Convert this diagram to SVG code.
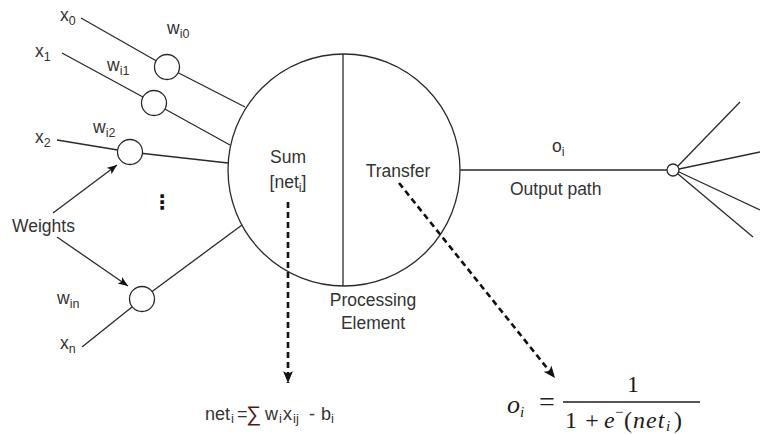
<svg xmlns="http://www.w3.org/2000/svg" width="760" height="434" viewBox="0 0 760 434">
<style>
text{font-family:"Liberation Sans",Arial,sans-serif;fill:#333;}
.lbl{font-size:17.5px;}
.sub{font-size:12.5px;}
.ln{stroke:#2a2a2a;stroke-width:1.3;fill:none;}
.node{stroke:#2a2a2a;stroke-width:1.3;fill:#fff;}
.dash{stroke:#111;stroke-width:2.6;stroke-dasharray:6 4;fill:none;}
.math{font-family:"Liberation Serif","Times New Roman",serif;fill:#231a1a;}
.mi{font-style:italic;}
</style>
<defs>
<marker id="ah" markerUnits="userSpaceOnUse" markerWidth="14" markerHeight="12" refX="12" refY="5" orient="auto">
<path d="M0,0 L12,5 L0,10 L3,5 Z" fill="#111"/>
</marker>
<marker id="ahs" markerUnits="userSpaceOnUse" markerWidth="12" markerHeight="10" refX="10" refY="4" orient="auto">
<path d="M0,0 L10,4 L0,8 L2.5,4 Z" fill="#111"/>
</marker>
</defs>

<g id="connectors">
<polyline class="ln" points="81,18 167,67 245,107"/>
<polyline class="ln" points="62,53 154,103 230,145"/>
<polyline class="ln" points="57,140 130,152 228,163"/>
<polyline class="ln" points="82,347 142,299 242,225"/>
<line class="ln" x1="460" y1="170" x2="667" y2="170"/>
<line class="ln" x1="678" y1="166" x2="740" y2="102"/>
<line class="ln" x1="679" y1="169" x2="760" y2="152"/>
<line class="ln" x1="679" y1="172" x2="760" y2="210"/>
<line class="ln" x1="678" y1="174" x2="753" y2="237"/>
<line class="ln" x1="53" y1="213" x2="117" y2="165" marker-end="url(#ahs)"/>
<line class="ln" x1="57" y1="237" x2="128" y2="286" marker-end="url(#ahs)"/>
<line class="dash" x1="288" y1="202" x2="288" y2="383" marker-end="url(#ah)"/>
<line class="dash" x1="399" y1="183" x2="555" y2="378" marker-end="url(#ah)"/>
</g>

<g id="processing-element">
<circle cx="344" cy="170" r="116" class="ln"/>
<line class="ln" x1="343" y1="54" x2="343" y2="286"/>
<text class="lbl" x="288" y="163" text-anchor="middle">Sum</text>
<text class="lbl" x="288" y="188" text-anchor="middle">[net<tspan class="sub" dy="4">i</tspan><tspan dy="-4">]</tspan></text>
<text class="lbl" x="398" y="177" text-anchor="middle">Transfer</text>
<text class="lbl" x="373" y="306" text-anchor="middle">Processing</text>
<text class="lbl" x="373" y="329" text-anchor="middle">Element</text>
</g>

<g id="weight-0">
<circle class="node" cx="167" cy="67" r="12.5"/>
<text class="lbl" x="167" y="34">w<tspan class="sub" dy="4">i0</tspan></text>
</g>
<g id="weight-1">
<circle class="node" cx="154" cy="103" r="12.5"/>
<text class="lbl" x="107" y="71">w<tspan class="sub" dy="4">i1</tspan></text>
</g>
<g id="weight-2">
<circle class="node" cx="130" cy="152" r="12.5"/>
<text class="lbl" x="93" y="133">w<tspan class="sub" dy="4">i2</tspan></text>
</g>
<g id="weight-n">
<circle class="node" cx="142" cy="299" r="12.5"/>
<text class="lbl" x="57" y="304">w<tspan class="sub" dy="4">in</tspan></text>
</g>

<g id="inputs">
<text class="lbl" x="60" y="21">x<tspan class="sub" dy="4">0</tspan></text>
<text class="lbl" x="35" y="57">x<tspan class="sub" dy="4">1</tspan></text>
<text class="lbl" x="35" y="143">x<tspan class="sub" dy="4">2</tspan></text>
<text class="lbl" x="60" y="349">x<tspan class="sub" dy="4">n</tspan></text>
<text x="162" y="209" text-anchor="middle" style="font-family:'DejaVu Sans',sans-serif;font-size:20px;font-weight:bold;fill:#111">⋮</text>
</g>

<g id="weights-label">
<text class="lbl" x="12" y="232">Weights</text>
</g>

<g id="output-node">
<circle class="node" cx="673" cy="170" r="6"/>
<text class="lbl" x="552" y="152">o<tspan class="sub" dy="4">i</tspan></text>
<text class="lbl" x="510" y="195">Output path</text>
</g>

<g id="net-formula" style="font-size:18px">
<text x="205" y="420">net</text>
<text x="231" y="423" style="font-size:13px">i</text>
<text x="237" y="420">=</text>
<text x="246" y="421" style="font-size:21px;fill:#5a1616">∑</text>
<text x="265" y="420">w</text>
<text x="279" y="423" style="font-size:13px">i</text>
<text x="283" y="420">x</text>
<text x="293" y="423" style="font-size:13px">ij</text>
<text x="309" y="420">-</text>
<text x="321" y="420">b</text>
<text x="331" y="423" style="font-size:13px">i</text>
</g>

<g id="transfer-formula">
<text class="math mi" x="507" y="413" style="font-size:26px">o</text>
<text class="math mi" x="520" y="417" style="font-size:15px">i</text>
<text class="math" x="547" y="411" text-anchor="middle" style="font-size:28px">=</text>
<line x1="563" y1="402" x2="700" y2="402" stroke="#231a1a" stroke-width="1.5"/>
<text class="math" x="633" y="392" text-anchor="middle" style="font-size:24px">1</text>
<text class="math" x="571" y="428" text-anchor="middle" style="font-size:24px">1</text>
<text class="math" x="592" y="428" text-anchor="middle" style="font-size:24px">+</text>
<text class="math mi" x="604" y="428" style="font-size:24px">e</text>
<text class="math" x="615" y="417" style="font-size:15px">−</text>
<text class="math" x="624" y="428" style="font-size:24px">(</text>
<text class="math mi" x="633" y="428" style="font-size:24px;letter-spacing:1px">net</text>
<text class="math mi" x="666" y="431" style="font-size:15px">i</text>
<text class="math" x="674" y="428" style="font-size:24px">)</text>
</g>
</svg>
